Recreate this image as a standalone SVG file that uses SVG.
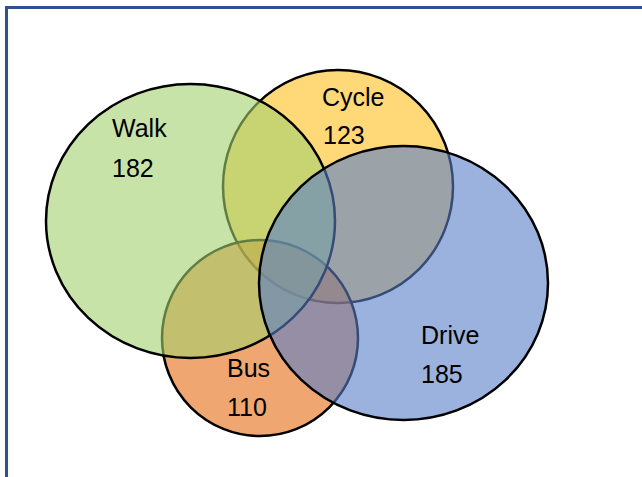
<svg xmlns="http://www.w3.org/2000/svg" width="642" height="477" viewBox="0 0 642 477">
<style>
.set{stroke:#000;stroke-width:2.5;fill-opacity:0.6}
.lbl{font-family:"Liberation Sans",Arial,sans-serif;font-size:25px;fill:#000}
</style>
<rect x="0" y="0" width="642" height="477" fill="#fff"/>
<rect x="6.5" y="7.5" width="700" height="520" fill="none" stroke="#2F528F" stroke-width="3"/>
<g id="cycle"><ellipse class="set" cx="338" cy="186.5" rx="115" ry="116.5" fill="#FFC01E"/></g>
<g id="bus"><circle class="set" cx="260" cy="338" r="98" fill="#E66A10"/></g>
<g id="walk"><ellipse class="set" cx="190.5" cy="221" rx="144.5" ry="137" fill="#A3D06E"/></g>
<g id="drive"><ellipse class="set" cx="403.5" cy="283" rx="144.5" ry="137" fill="#587FC8"/></g>
<g id="labels">
<text class="lbl" x="112" y="137">Walk</text>
<text class="lbl" x="112" y="177">182</text>
<text class="lbl" x="322" y="106">Cycle</text>
<text class="lbl" x="323" y="144">123</text>
<text class="lbl" x="421" y="344">Drive</text>
<text class="lbl" x="421" y="383">185</text>
<text class="lbl" x="227" y="377">Bus</text>
<text class="lbl" x="227" y="416">110</text>
</g>
</svg>
